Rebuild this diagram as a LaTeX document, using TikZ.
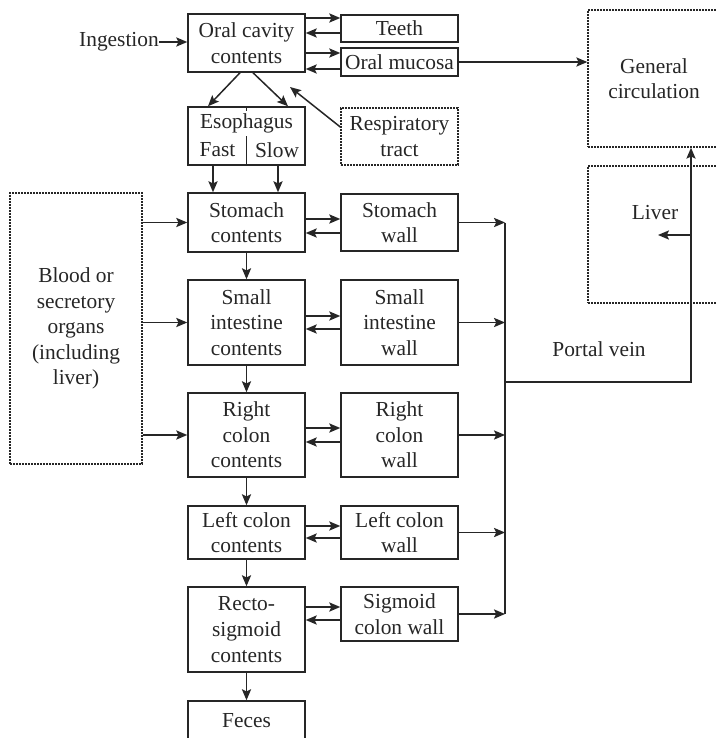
\documentclass[tikz,border=0pt]{standalone}
\usepackage{fontspec}
\setmainfont{Liberation Serif}
\usetikzlibrary{arrows.meta,calc}
\definecolor{ink}{gray}{0.15}
\begin{document}
\begin{tikzpicture}[x=0.5pt,y=-0.5pt,
  every node/.style={text=ink, font=\fontsize{10.7}{12.8}\selectfont},
  box/.style={draw=ink, line width=0.75pt, minimum width=58.5pt, inner sep=0pt, align=center},
  dotbox/.style={draw=ink, line width=0.7pt, dash pattern=on 0.8pt off 0.7pt, minimum width=58.5pt, inner sep=0pt, align=center},
  txt/.style={inner sep=0pt, align=center},
  arr/.style={draw=ink, line width=0.75pt, -{Stealth[length=5.5pt,width=4.6pt,inset=1.1pt]}},
  ln/.style={draw=ink, line width=0.75pt}]
\useasboundingbox (0,0) rectangle (716,738);

% nodes
\node[box, minimum height=29pt] (oral) at (246.5,43) {Oral cavity\\contents};
\node[box, minimum height=13.5pt] (teeth) at (399.5,28.5) {Teeth};
\node[box, minimum height=14pt] (mucosa) at (399.5,62) {Oral mucosa};
\node[box, minimum height=29pt] (eso) at (246.5,136) {};
\draw[ln] (eso.north) -- (eso.south);
\node[txt, fill=white, inner sep=1.5pt] (esot) at (246.5,123.5) {Esophagus};
\node[txt] (fast) at (217.5,150) {Fast};
\node[txt] (slow) at (277,150) {Slow};
\node[dotbox, minimum height=28.5pt] (resp) at (399.5,136.5) {Respiratory\\tract};
\node[dotbox, minimum width=66pt, minimum height=68.5pt] (gen) at (654,78.5) {General\\circulation};
\node[dotbox, minimum width=66pt, minimum height=68.5pt] (liver) at (654,234.5) {};
\node[txt] (livertxt) at (655,213) {Liver};
\node[box, minimum height=29.5pt] (stom) at (246.5,222.5) {Stomach\\contents};
\node[box, minimum height=28.5pt] (stwall) at (399.5,222.5) {Stomach\\wall};
\node[box, minimum height=42.5pt] (sint) at (246.5,322.5) {Small\\intestine\\contents};
\node[box, minimum height=42.5pt] (siwall) at (399.5,322.5) {Small\\intestine\\wall};
\node[box, minimum height=42pt] (rcol) at (246.5,435) {Right\\colon\\contents};
\node[box, minimum height=42pt] (rcwall) at (399.5,435) {Right\\colon\\wall};
\node[box, minimum height=26.5pt] (lcol) at (246.5,532.5) {Left colon\\contents};
\node[box, minimum height=26.5pt] (lcwall) at (399.5,532.5) {Left colon\\wall};
\node[box, minimum height=42.5pt] (recto) at (246.5,629.5) {Recto-\\sigmoid\\contents};
\node[box, minimum height=27pt] (sgwall) at (399.5,614) {Sigmoid\\colon wall};
\node[box, minimum height=20pt] (feces) at (246.5,721) {Feces};
\node[dotbox, minimum width=66pt, minimum height=135.5pt] (blood) at (76,328.5) {Blood or\\secretory\\organs\\(including\\liver)};
\node[txt] (ing) at (119,42) {Ingestion};
\node[txt] (portal) at (599,349) {Portal vein};

% coordinates
\coordinate (respend) at (290,87);
\coordinate (pj) at (505,382);
\coordinate (pc) at (691,382);
\coordinate (lvtip) at (658,235);

% top arrows
\draw[arr] (ing.east) -- (ing.east -| oral.west);
\draw[arr] ($(oral.east |- teeth.west)+(0,-10.5)$) -- ($(teeth.west)+(0,-10.5)$);
\draw[arr] ($(teeth.west)+(0,4.5)$) -- ($(oral.east |- teeth.west)+(0,4.5)$);
\draw[arr] ($(oral.east |- mucosa.west)+(0,-9)$) -- ($(mucosa.west)+(0,-9)$);
\draw[arr] ($(mucosa.west)+(0,7)$) -- ($(oral.east |- mucosa.west)+(0,7)$);
\draw[arr] (mucosa.east) -- (mucosa.east -| gen.west);
\draw[arr] ($(oral.south)+(-6.5,0)$) -- ($(eso.north)+(-38.5,0)$);
\draw[arr] ($(oral.south)+(6.5,0)$) -- ($(eso.north)+(41.5,0)$);
\draw[arr] ($(resp.west)+(0,-9.5)$) -- (respend);
\draw[arr] ($(eso.south)+(-33.5,0)$) -- ($(stom.north)+(-33.5,0)$);
\draw[arr] ($(eso.south)+(31.5,0)$) -- ($(stom.north)+(31.5,0)$);

% main column
\draw[arr] (stom.south) -- (sint.north);
\draw[arr] (sint.south) -- (rcol.north);
\draw[arr] (rcol.south) -- (lcol.north);
\draw[arr] (lcol.south) -- (recto.north);
\draw[arr] (recto.south) -- (feces.north);

% contents <-> walls
\draw[arr] ($(stom.east |- stwall.west)+(0,-3.5)$) -- ($(stwall.west)+(0,-3.5)$);
\draw[arr] ($(stwall.west)+(0,10.5)$) -- ($(stom.east |- stwall.west)+(0,10.5)$);
\draw[arr] ($(sint.east |- siwall.west)+(0,-6.5)$) -- ($(siwall.west)+(0,-6.5)$);
\draw[arr] ($(siwall.west)+(0,6.5)$) -- ($(sint.east |- siwall.west)+(0,6.5)$);
\draw[arr] ($(rcol.east |- rcwall.west)+(0,-7)$) -- ($(rcwall.west)+(0,-7)$);
\draw[arr] ($(rcwall.west)+(0,7)$) -- ($(rcol.east |- rcwall.west)+(0,7)$);
\draw[arr] ($(lcol.east |- lcwall.west)+(0,-6.5)$) -- ($(lcwall.west)+(0,-6.5)$);
\draw[arr] ($(lcwall.west)+(0,5.5)$) -- ($(lcol.east |- lcwall.west)+(0,5.5)$);
\draw[arr] ($(recto.east |- sgwall.west)+(0,-7)$) -- ($(sgwall.west)+(0,-7)$);
\draw[arr] ($(sgwall.west)+(0,6)$) -- ($(recto.east |- sgwall.west)+(0,6)$);

% walls -> portal vein
\draw[ln] (pj |- stwall.east) -- (pj |- sgwall.east);
\draw[arr] (stwall.east) -- (stwall.east -| pj);
\draw[arr] (siwall.east) -- (siwall.east -| pj);
\draw[arr] (rcwall.east) -- (rcwall.east -| pj);
\draw[arr] (lcwall.east) -- (lcwall.east -| pj);
\draw[arr] (sgwall.east) -- (sgwall.east -| pj);
\draw[arr] (pj) -- (pc) -- (pc |- gen.south);
\draw[arr] (pc |- lvtip) -- (lvtip);

% blood -> contents
\draw[arr] (blood.east |- stom.west) -- (stom.west);
\draw[arr] (blood.east |- sint.west) -- (sint.west);
\draw[arr] (blood.east |- rcol.west) -- (rcol.west);
\end{tikzpicture}
\end{document}
